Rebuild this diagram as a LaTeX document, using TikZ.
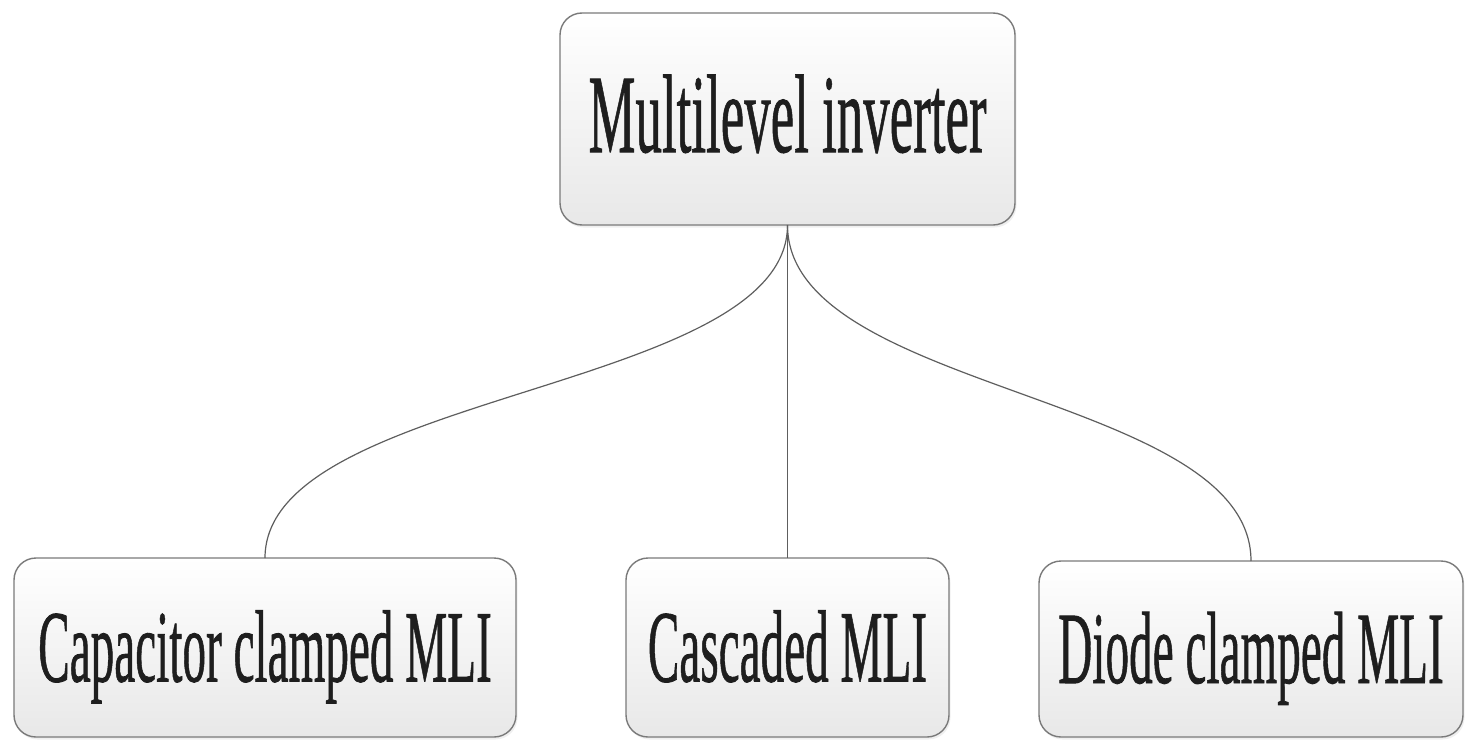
\documentclass[tikz,border=0pt]{standalone}
\usepackage{fontspec}
\usepackage{graphicx}
\setmainfont{Liberation Serif}
\newfontfamily\boxfont[FakeBold=0.9]{Liberation Serif}
\usetikzlibrary{shadows}
\definecolor{boxline}{HTML}{7A7A7A}
\definecolor{linkline}{HTML}{5E5E5E}
\definecolor{txt}{HTML}{1E1E1E}
\tikzset{
  mlbox/.style={draw=boxline, line width=1.4bp, rounded corners=22bp,
    top color=white, bottom color=black!9, inner sep=0pt, outer sep=0pt,
    text=txt, align=center,
    drop shadow={opacity=0.12, shadow xshift=1.5bp, shadow yshift=-2.5bp}},
  topbox/.style={mlbox, minimum width=455bp, minimum height=212bp,
    text height=74bp, text depth=8bp,
    font=\boxfont\fontsize{112}{112}\selectfont},
  subbox/.style={mlbox, minimum height=179bp,
    text height=68bp, text depth=0bp,
    font=\boxfont\fontsize{103}{103}\selectfont},
  link/.style={draw=linkline, line width=1.2bp}
}
\begin{document}
\begin{tikzpicture}[x=1bp,y=-1bp]
\useasboundingbox[fill=white] (0,0) rectangle (1467,739);
\node[topbox] (mli) at (787.5,119) {\scalebox{0.474}[1]{Multilevel inverter}};
\node[subbox, minimum width=502bp] (cap) at (265,647.5) {\scalebox{0.46}[1]{Capacitor clamped MLI}};
\node[subbox, minimum width=323bp] (cas) at (787.5,647.5) {\scalebox{0.46}[1]{Cascaded MLI}};
\node[subbox, minimum width=424bp, minimum height=176bp] (dio) at (1251,649) {\scalebox{0.46}[1]{Diode clamped MLI}};
\draw[link] (mli.south) .. controls +(0,167) and +(0,-167) .. (cap.north);
\draw[link] (mli.south) -- (cas.north);
\draw[link] (mli.south) .. controls +(0,168) and +(0,-168) .. (dio.north);
\end{tikzpicture}
\end{document}
